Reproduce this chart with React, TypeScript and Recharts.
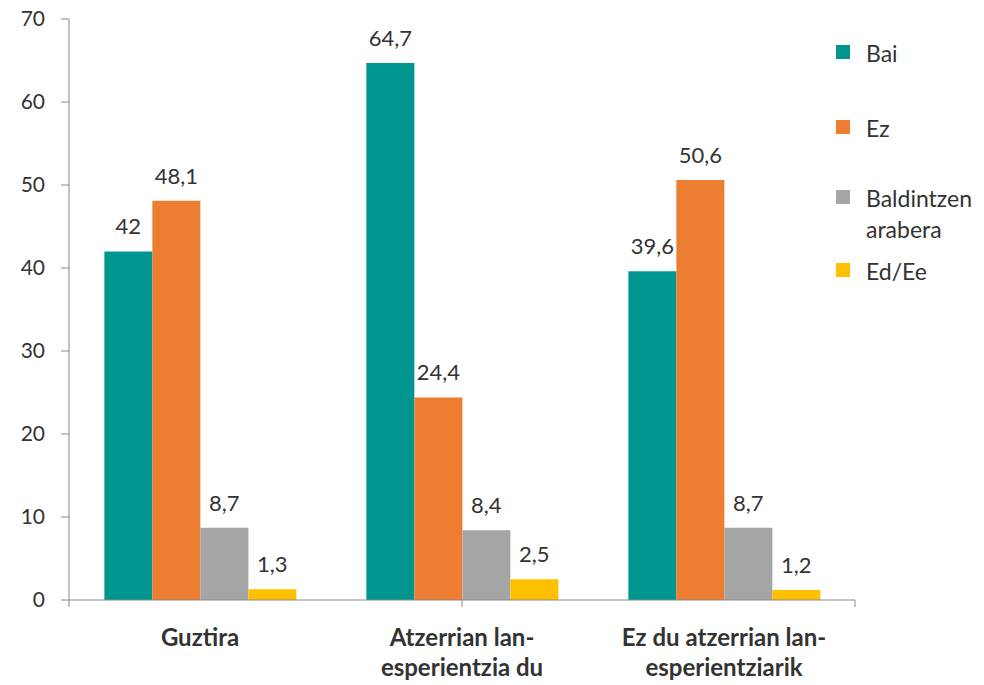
import React from 'react';
import { BarChart, Bar, XAxis, YAxis, LabelList } from 'recharts';

const categories = ['Guztira', 'Atzerrian lan-\nesperientzia du', 'Ez du atzerrian lan-\nesperientziarik'];
const bai = [42, 64.7, 39.6];
const ez = [48.1, 24.4, 50.6];
const baldintzen = [8.7, 8.4, 8.7];
const eded = [1.3, 2.5, 1.2];
const yTicks = [0, 10, 20, 30, 40, 50, 60, 70];

const seriesNames = ['Bai', 'Ez', 'Baldintzen arabera', 'Ed/Ee'];
const seriesKeys = ['bai', 'ez', 'bald', 'ed'];
const colors = ['#009690', '#ED7D31', '#A5A5A5', '#FFC000'];

const data = categories.map((c, i) => ({ cat: c, bai: bai[i], ez: ez[i], bald: baldintzen[i], ed: eded[i] }));

const FONT = 'Lato, "Noto Sans", sans-serif';
const TEXT = '#333333';
const AXIS = '#898989';

const fmt = (v: any) => String(v).replace('.', ',');

const CatTick = (props: any) => {
  const { x, y, payload } = props;
  const lines = String(payload.value).split('\n');
  return (
    <g transform={`translate(${x},${y})`}>
      <text textAnchor="middle" fontFamily={FONT} fontWeight="bold" fontSize={24} fill={TEXT}>
        {lines.map((l, i) => (
          <tspan key={i} x={0} y={37 + i * 30}>{l}</tspan>
        ))}
      </text>
    </g>
  );
};

const LegendBox = () => {
  const tops = [38, 113, 183, 256];
  const labels = [['Bai'], ['Ez'], ['Baldintzen', 'arabera'], ['Ed/Ee']];
  return (
    <div style={{ position: 'absolute', left: 835, top: 0, width: 150, height: 300, fontFamily: FONT, fontSize: 23, color: TEXT }}>
      {labels.map((ls, i) => (
        <div key={i} style={{ position: 'absolute', top: tops[i], left: 0 }}>
          <div style={{ position: 'absolute', left: 1, top: 7, width: 14, height: 14, background: colors[i] }} title={seriesNames[i]} />
          <div style={{ marginLeft: 31, lineHeight: '31px', whiteSpace: 'nowrap' }}>
            {ls.map((l, j) => <div key={j}>{l}</div>)}
          </div>
        </div>
      ))}
    </div>
  );
};

export default function App() {
  return (
    <div style={{ position: 'absolute', left: 0, top: 0, width: 984, height: 685, background: '#fff' }}>
      <BarChart width={984} height={685} data={data} margin={{ top: 19, right: 129, left: 0, bottom: 0 }}
        barCategoryGap="13.5%" barGap={0}>
        <XAxis xAxisId="b" dataKey="cat" axisLine={false} tickLine={false} tick={<CatTick />} height={84} interval={0} />
        <XAxis xAxisId="a" type="number" domain={[0, 3]} ticks={[0, 1, 2, 3]} tickSize={7}
          tickFormatter={() => ''} height={1} axisLine={{ stroke: AXIS }} tickLine={{ stroke: AXIS }} allowDataOverflow />
        <YAxis width={69} domain={[0, 70]} ticks={yTicks} tickSize={8} tickMargin={16}
          axisLine={{ stroke: AXIS }} tickLine={{ stroke: AXIS }}
          tick={{ fontFamily: FONT, fontSize: 21, fill: TEXT }} />
        {seriesKeys.map((k, i) => (
          <Bar key={k} xAxisId="b" dataKey={k} name={seriesNames[i]} fill={colors[i]} isAnimationActive={false}>
            <LabelList dataKey={k} position="top" offset={17} formatter={fmt}
              style={{ fontFamily: FONT, fontSize: 22, fill: TEXT }} />
          </Bar>
        ))}
      </BarChart>
      <LegendBox />
    </div>
  );
}
